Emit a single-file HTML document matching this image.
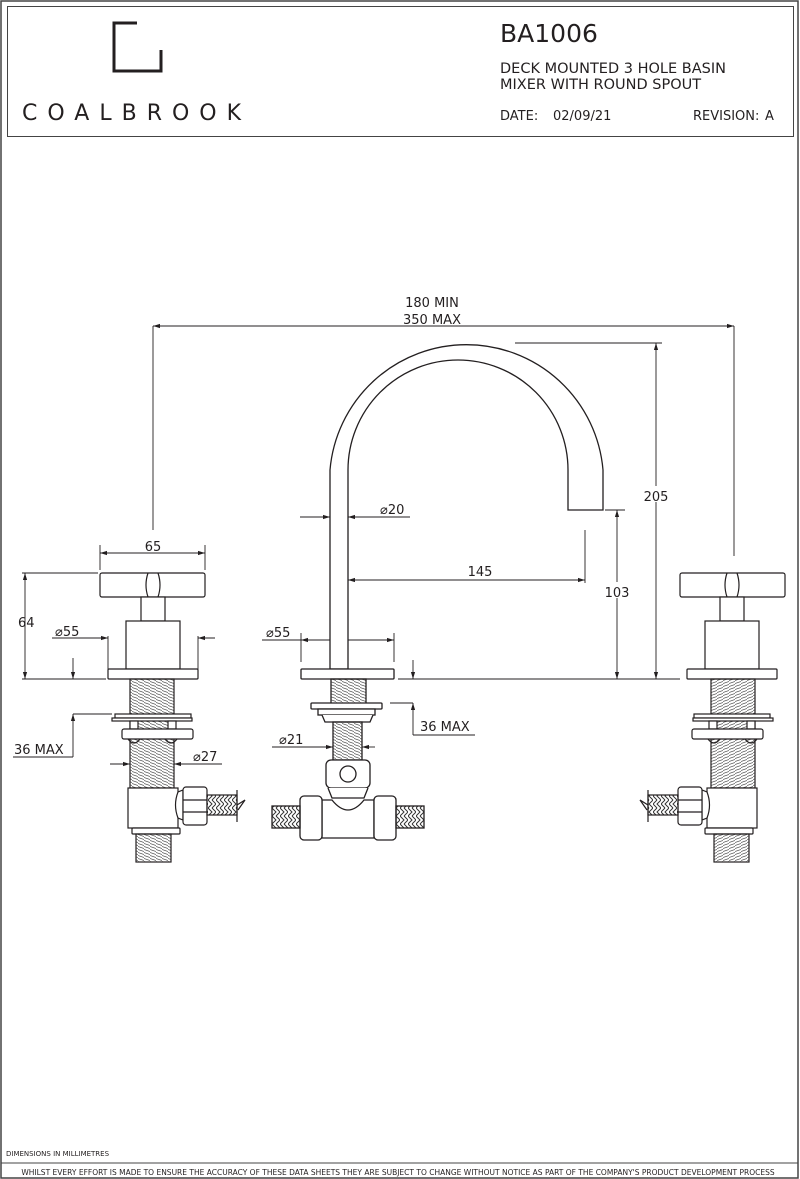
<!DOCTYPE html>
<html><head><meta charset="utf-8"><style>
html,body{margin:0;padding:0;background:#fff}
svg{display:block}
text{font-family:"DejaVu Sans","Liberation Sans",sans-serif;fill:#231f20}
</style></head><body>
<svg width="800" height="1179" viewBox="0 0 800 1179" xmlns="http://www.w3.org/2000/svg">
<defs>
<marker id="a" viewBox="0 0 10 10" refX="10" refY="5" markerWidth="8" markerHeight="8" orient="auto-start-reverse"><path d="M0,2 L10,5 L0,8 z" fill="#231f20"/></marker>
<pattern id="th" width="6" height="3" patternUnits="userSpaceOnUse"><line x1="0" y1="0.5" x2="6" y2="2.5" stroke="#555" stroke-width="0.8"/></pattern>
<pattern id="br" width="8" height="8" patternUnits="userSpaceOnUse"><path d="M0,0 L4,4 L0,8 M4,0 L8,4 L4,8" stroke="#333" fill="none" stroke-width="1"/></pattern>
<g id="tap" fill="#fff" stroke="#231f20" stroke-width="1.2">
<rect x="100" y="573" width="105" height="24" rx="2"/>
<path d="M148,573 q-4,12 0,24 M158,573 q4,12 0,24" fill="none"/>
<rect x="141" y="597" width="24" height="24"/>
<rect x="126" y="621" width="54" height="48"/>
<rect x="108" y="669" width="90" height="10" rx="1"/>
<rect x="130" y="679" width="44" height="109" fill="url(#th)"/>
<rect x="115" y="714" width="76" height="4"/><rect x="112" y="718" width="80" height="3"/>
<rect x="130" y="721" width="8" height="8"/><rect x="168" y="721" width="8" height="8"/>
<rect x="122" y="729" width="71" height="10" rx="2"/>
<path d="M128,739 q6,8 12,0 M165,739 q6,8 12,0" fill="none"/>
<rect x="128" y="788" width="50" height="40"/>
<rect x="132" y="828" width="48" height="6" rx="1"/>
<rect x="136" y="834" width="35" height="28" fill="url(#th)"/>
<path d="M178,792 q-5,13 0,26 L183,820 L183,790 z"/>
<rect x="183" y="787" width="24" height="38" rx="3"/>
<line x1="183" y1="800" x2="207" y2="800"/><line x1="183" y1="812" x2="207" y2="812"/>
<rect x="207" y="795" width="30" height="20" fill="url(#br)"/>
<path d="M237,790 L237,822 M237,805 L245,800 L238,810" fill="none"/>
</g>
</defs>
<rect x="1" y="1" width="797" height="1177" fill="none" stroke="#444" stroke-width="1.5"/>
<rect x="7.5" y="6.5" width="786" height="130" fill="none" stroke="#444" stroke-width="1"/>
<path d="M114,23 L137,23 M114,21.5 L114,71 L161,71 L161,50" fill="none" stroke="#231f20" stroke-width="3"/>
<text x="22" y="120" font-size="22" letter-spacing="10">COALBROOK</text>
<text x="500" y="42" font-size="25">BA1006</text>
<text x="500" y="73" font-size="14.5">DECK MOUNTED 3 HOLE BASIN</text>
<text x="500" y="89" font-size="14.5">MIXER WITH ROUND SPOUT</text>
<text x="500" y="120" font-size="13">DATE:</text>
<text x="553" y="120" font-size="13">02/09/21</text>
<text x="693" y="120" font-size="13">REVISION:</text>
<text x="765" y="120" font-size="13">A</text>

<g stroke="#231f20" fill="none" stroke-width="0.9">
<line x1="153" y1="326" x2="734" y2="326" marker-start="url(#a)" marker-end="url(#a)"/>
<line x1="153" y1="326" x2="153" y2="530"/><line x1="734" y1="326" x2="734" y2="556"/>
<line x1="515" y1="343" x2="662" y2="343"/>
<line x1="656" y1="343" x2="656" y2="679" marker-start="url(#a)" marker-end="url(#a)"/>
<line x1="605" y1="510" x2="625" y2="510"/>
<line x1="617" y1="510" x2="617" y2="679" marker-start="url(#a)" marker-end="url(#a)"/>
<line x1="585" y1="530" x2="585" y2="583"/>
<line x1="348" y1="580" x2="585" y2="580" marker-start="url(#a)" marker-end="url(#a)"/>
<line x1="300" y1="517" x2="330" y2="517" marker-end="url(#a)"/>
<line x1="348" y1="517" x2="410" y2="517" marker-start="url(#a)"/>
<line x1="398" y1="679" x2="680" y2="679"/>
<line x1="390" y1="703" x2="413" y2="703"/>
<line x1="413" y1="660" x2="413" y2="679" marker-end="url(#a)"/>
<line x1="413" y1="735" x2="413" y2="703" marker-end="url(#a)"/>
<line x1="413" y1="735" x2="475" y2="735"/>
<line x1="262" y1="640" x2="301" y2="640"/><line x1="301" y1="640" x2="394" y2="640" marker-start="url(#a)" marker-end="url(#a)"/>
<line x1="301" y1="633" x2="301" y2="662"/><line x1="394" y1="633" x2="394" y2="662"/>
<line x1="272" y1="747" x2="333" y2="747" marker-end="url(#a)"/>
<line x1="362" y1="747" x2="375" y2="747" marker-start="url(#a)"/>
<line x1="100" y1="553" x2="205" y2="553" marker-start="url(#a)" marker-end="url(#a)"/>
<line x1="100" y1="545" x2="100" y2="570"/><line x1="205" y1="545" x2="205" y2="570"/>
<line x1="22" y1="573" x2="98" y2="573"/><line x1="22" y1="679" x2="106" y2="679"/>
<line x1="25" y1="573" x2="25" y2="679" marker-start="url(#a)" marker-end="url(#a)"/>
<line x1="52" y1="638" x2="108" y2="638" marker-end="url(#a)"/>
<line x1="198" y1="638" x2="215" y2="638" marker-start="url(#a)"/>
<line x1="108" y1="636" x2="108" y2="669"/><line x1="198" y1="636" x2="198" y2="669"/>
<line x1="73" y1="658" x2="73" y2="679" marker-end="url(#a)"/>
<line x1="73" y1="714" x2="112" y2="714"/>
<line x1="73" y1="757" x2="73" y2="714" marker-end="url(#a)"/>
<line x1="13" y1="757" x2="73" y2="757"/>
<line x1="110" y1="764" x2="130" y2="764" marker-end="url(#a)"/>
<line x1="174" y1="764" x2="222" y2="764" marker-start="url(#a)"/>
</g>

<g fill="#fff" stroke="#231f20" stroke-width="1.3">
<path d="M330,669 L330,470 A137,137 0 0 1 603,470 L603,510 L568,510 L568,470 A110,110 0 0 0 348,470 L348,669 Z"/>
<rect x="301" y="669" width="93" height="10" rx="1"/>
<rect x="331" y="679" width="35" height="25" fill="url(#th)"/>
<rect x="311" y="703" width="71" height="6" rx="1"/>
<rect x="318" y="709" width="57" height="6"/>
<path d="M322,715 L325,722 L370,722 L373,715" />
<rect x="333" y="722" width="29" height="38" fill="url(#th)"/>
<rect x="326" y="760" width="44" height="28" rx="5"/>
<circle cx="348" cy="774" r="8"/>
<path d="M328,788 L332,798 L364,798 L368,788"/>
<path d="M322,838 L322,800 L332,800 Q348,820 364,800 L374,800 L374,838 Z"/>
<rect x="300" y="796" width="22" height="44" rx="4"/>
<rect x="374" y="796" width="22" height="44" rx="4"/>
<rect x="272" y="806" width="28" height="22" fill="url(#br)"/>
<rect x="396" y="806" width="28" height="22" fill="url(#br)"/>
</g>

<use href="#tap"/>
<use href="#tap" transform="translate(885,0) scale(-1,1)"/>

<g font-size="13">
<text x="432" y="307" text-anchor="middle">180 MIN</text>
<text x="432" y="324" text-anchor="middle">350 MAX</text>
<rect x="642" y="486" width="28" height="16" fill="#fff"/>
<text x="656" y="501" text-anchor="middle">205</text>
<rect x="604" y="582" width="28" height="16" fill="#fff"/>
<text x="617" y="597" text-anchor="middle">103</text>
<text x="480" y="576" text-anchor="middle">145</text>
<text x="380" y="514">⌀20</text>
<text x="266" y="637">⌀55</text>
<text x="420" y="731">36 MAX</text>
<text x="279" y="744">⌀21</text>
<text x="153" y="551" text-anchor="middle">65</text>
<text x="18" y="627">64</text>
<text x="55" y="636">⌀55</text>
<text x="14" y="754">36 MAX</text>
<text x="193" y="761">⌀27</text>
</g>
<text x="6" y="1156" font-size="7">DIMENSIONS IN  MILLIMETRES</text>
<line x1="1" y1="1163" x2="798" y2="1163" stroke="#444" stroke-width="1"/>
<text x="398" y="1175" font-size="7.5" text-anchor="middle">WHILST EVERY EFFORT IS MADE TO ENSURE THE ACCURACY OF THESE DATA SHEETS THEY ARE SUBJECT TO CHANGE WITHOUT NOTICE AS PART OF THE COMPANY'S PRODUCT DEVELOPMENT PROCESS</text>
</svg>
</body></html>
